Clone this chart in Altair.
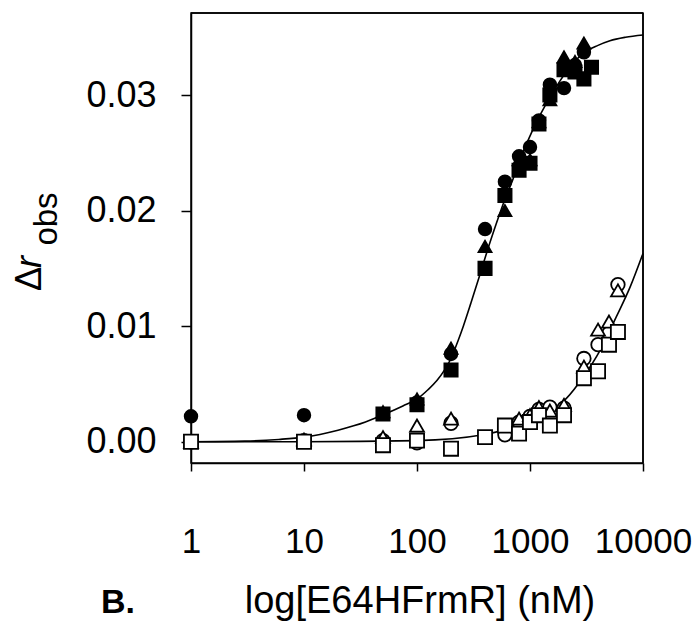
import altair as alt
import pandas as pd

# ---- data (concentration in nM, delta r_obs) ----
# filled symbols (upper data set)
fc_x = [1, 10, 100, 200, 400, 600, 800, 1000, 1200, 1500, 2000, 2500, 3000]
fc_y = [0.0022, 0.0023, 0.0034, 0.0076, 0.0184, 0.0225, 0.0247, 0.0255, 0.0278, 0.0309, 0.0306, 0.0326, 0.0337]
ft_x = [50, 100, 200, 400, 600, 800, 1000, 1200, 1500, 2000, 2500, 3000]
ft_y = [0.0026, 0.0037, 0.0081, 0.0169, 0.0200, 0.0244, 0.0244, 0.0277, 0.0296, 0.0333, 0.0329, 0.0345]
fs_x = [50, 100, 200, 400, 600, 800, 1000, 1200, 1500, 2000, 2500, 3000, 3500]
fs_y = [0.0024, 0.0032, 0.0062, 0.0150, 0.0213, 0.0235, 0.0241, 0.0275, 0.0300, 0.0322, 0.0320, 0.0314, 0.0324]
# open symbols (lower data set)
oc_x = [1, 10, 50, 100, 200, 600, 800, 1000, 1200, 1500, 2000, 3000, 4000, 5000, 6000]
oc_y = [0.0000, 0.0001, 0.0001, -0.0001, 0.0016, 0.0006, 0.0017, 0.0022, 0.0028, 0.0030, 0.0029, 0.0072, 0.0084, 0.0094, 0.0136]
ot_x = [1, 10, 50, 100, 200, 800, 1000, 1200, 1500, 2000, 3000, 4000, 5000, 6000]
ot_y = [0.0000, 0.0002, 0.0004, 0.0014, 0.0020, 0.0020, 0.0023, 0.0030, 0.0027, 0.0032, 0.0065, 0.0097, 0.0104, 0.0131]
os_x = [1, 10, 50, 100, 200, 400, 600, 800, 1000, 1200, 1500, 2000, 3000, 4000, 5000, 6000]
os_y = [0.0000, 0.0000, -0.0003, 0.0001, -0.0006, 0.0004, 0.0014, 0.0007, 0.0017, 0.0023, 0.0014, 0.0023, 0.0055, 0.0061, 0.0084, 0.0095]

# fitted curves
fit1_x = [1, 3, 6, 10, 20, 35, 52, 75, 100, 125, 150, 175, 200, 230, 257, 300, 375, 415, 500, 580,
          700, 815, 1070, 1500, 2250, 2950, 4000, 5100, 7000, 10000]
fit1_y = [0.0, 0.00005, 0.0002, 0.0004, 0.0010, 0.0017, 0.0024, 0.0031, 0.0037, 0.0045, 0.0053, 0.0062,
          0.0072, 0.0087, 0.0100, 0.0120, 0.0150, 0.0164, 0.0188, 0.0206, 0.0226, 0.0244, 0.0271, 0.0298,
          0.0324, 0.0336, 0.0343, 0.0347, 0.0350, 0.0352]
fit2_x = [1, 10, 100, 385, 765, 1500, 2100, 2960, 4170, 5800, 7700, 10000]
fit2_y = [0.0, 0.0, 0.0001, 0.0006, 0.0014, 0.0026, 0.00375, 0.0056, 0.0079, 0.0108, 0.0134, 0.0163]

# plot box limits
x_lo, x_hi = 1, 10000
y_lo, y_hi = -0.00184, 0.0371

series_names = ["fc", "ft", "fs", "oc", "ot", "os"]
series_x = [fc_x, ft_x, fs_x, oc_x, ot_x, os_x]
series_y = [fc_y, ft_y, fs_y, oc_y, ot_y, os_y]

rows = []
for name, xs, ys in zip(series_names, series_x, series_y):
    for xv, yv in zip(xs, ys):
        rows.append({"conc": xv, "val": yv, "series": name})
pts = pd.DataFrame(rows)

fit1 = pd.DataFrame({"conc": fit1_x, "val": fit1_y})
fit2 = pd.DataFrame({"conc": fit2_x, "val": fit2_y})
frame_top = pd.DataFrame({"x1": [x_lo], "x2": [x_hi], "y": [y_hi]})
frame_right = pd.DataFrame({"x": [x_hi], "y1": [y_lo], "y2": [y_hi]})

FONT = "Liberation Sans"
W, H = 452, 450

xscale = alt.Scale(type="log", domain=[x_lo, x_hi], nice=False)
yscale = alt.Scale(domain=[y_lo, y_hi], nice=False, zero=False)

xaxis = alt.Axis(values=[1, 10, 100, 1000, 10000], format="d", grid=False,
                 labelFont=FONT, labelFontSize=35, labelColor="black", labelOverlap=False,
                 labelFlush=False, labelPadding=53, tickSize=8, tickWidth=1.5, tickColor="black",
                 domainColor="black", domainWidth=1.5, title=None)
yaxis = alt.Axis(values=[0, 0.01, 0.02, 0.03], format=".2f", grid=False,
                 labelFont=FONT, labelFontSize=36, labelColor="black",
                 labelPadding=25, tickSize=10, tickWidth=1.5, tickColor="black",
                 domainColor="black", domainWidth=1.5, title=None)

lines1 = alt.Chart(fit1).mark_line(color="black", strokeWidth=1.6, interpolate="monotone").encode(
    x=alt.X("conc:Q", scale=xscale, axis=xaxis),
    y=alt.Y("val:Q", scale=yscale, axis=yaxis),
)
lines2 = alt.Chart(fit2).mark_line(color="black", strokeWidth=1.6, interpolate="monotone").encode(
    x=alt.X("conc:Q", scale=xscale),
    y=alt.Y("val:Q", scale=yscale),
)

top_edge = alt.Chart(frame_top).mark_rule(color="black", strokeWidth=1.5).encode(
    x=alt.X("x1:Q", scale=xscale), x2="x2:Q", y=alt.Y("y:Q", scale=yscale))
right_edge = alt.Chart(frame_right).mark_rule(color="black", strokeWidth=1.5).encode(
    x=alt.X("x:Q", scale=xscale), y=alt.Y("y1:Q", scale=yscale), y2="y2:Q")

points = alt.Chart(pts).mark_point(filled=True, stroke="black", strokeWidth=1.8, opacity=1).encode(
    x=alt.X("conc:Q", scale=xscale),
    y=alt.Y("val:Q", scale=yscale),
    shape=alt.Shape("series:N", scale=alt.Scale(domain=series_names,
                    range=["circle", "triangle-up", "square", "circle", "triangle-up", "square"]), legend=None),
    color=alt.Color("series:N", scale=alt.Scale(domain=series_names,
                    range=["black", "black", "black", "white", "white", "white"]), legend=None),
    size=alt.Size("series:N", scale=alt.Scale(domain=series_names,
                  range=[160, 200, 200, 160, 200, 200]), legend=None),
)

ann = pd.DataFrame({"k": [0]})


def label(text, x, y, size, style="normal", weight="normal", angle=0, baseline="middle"):
    return alt.Chart(ann).mark_text(text=text, font=FONT, fontSize=size, fontStyle=style,
                                    fontWeight=weight, color="black", align="center",
                                    baseline=baseline, angle=angle).encode(
        x=alt.value(x), y=alt.value(y))


t_delta = label("Δ", -161, 266, 36, angle=270)
t_r = label("r", -161, 249, 36, style="italic", angle=270)
t_obs = label("obs", -144, 206, 33, angle=270)
t_title = label("log[E64HFrmR] (nM)", 229, 600, 38, baseline="alphabetic")
t_b = label("B.", -73, 600, 34, weight="bold", baseline="alphabetic")

chart = alt.layer(lines1, lines2, top_edge, right_edge, points,
                  t_delta, t_r, t_obs, t_title, t_b).properties(
    width=W, height=H,
    autosize=alt.AutoSizeParams(type="none"),
    padding={"left": 183, "top": 5, "right": 49, "bottom": 160},
    background="white",
).configure_view(stroke="black", strokeWidth=1.5)

chart.save("out.html", embed_options={"renderer": "svg", "actions": False})
